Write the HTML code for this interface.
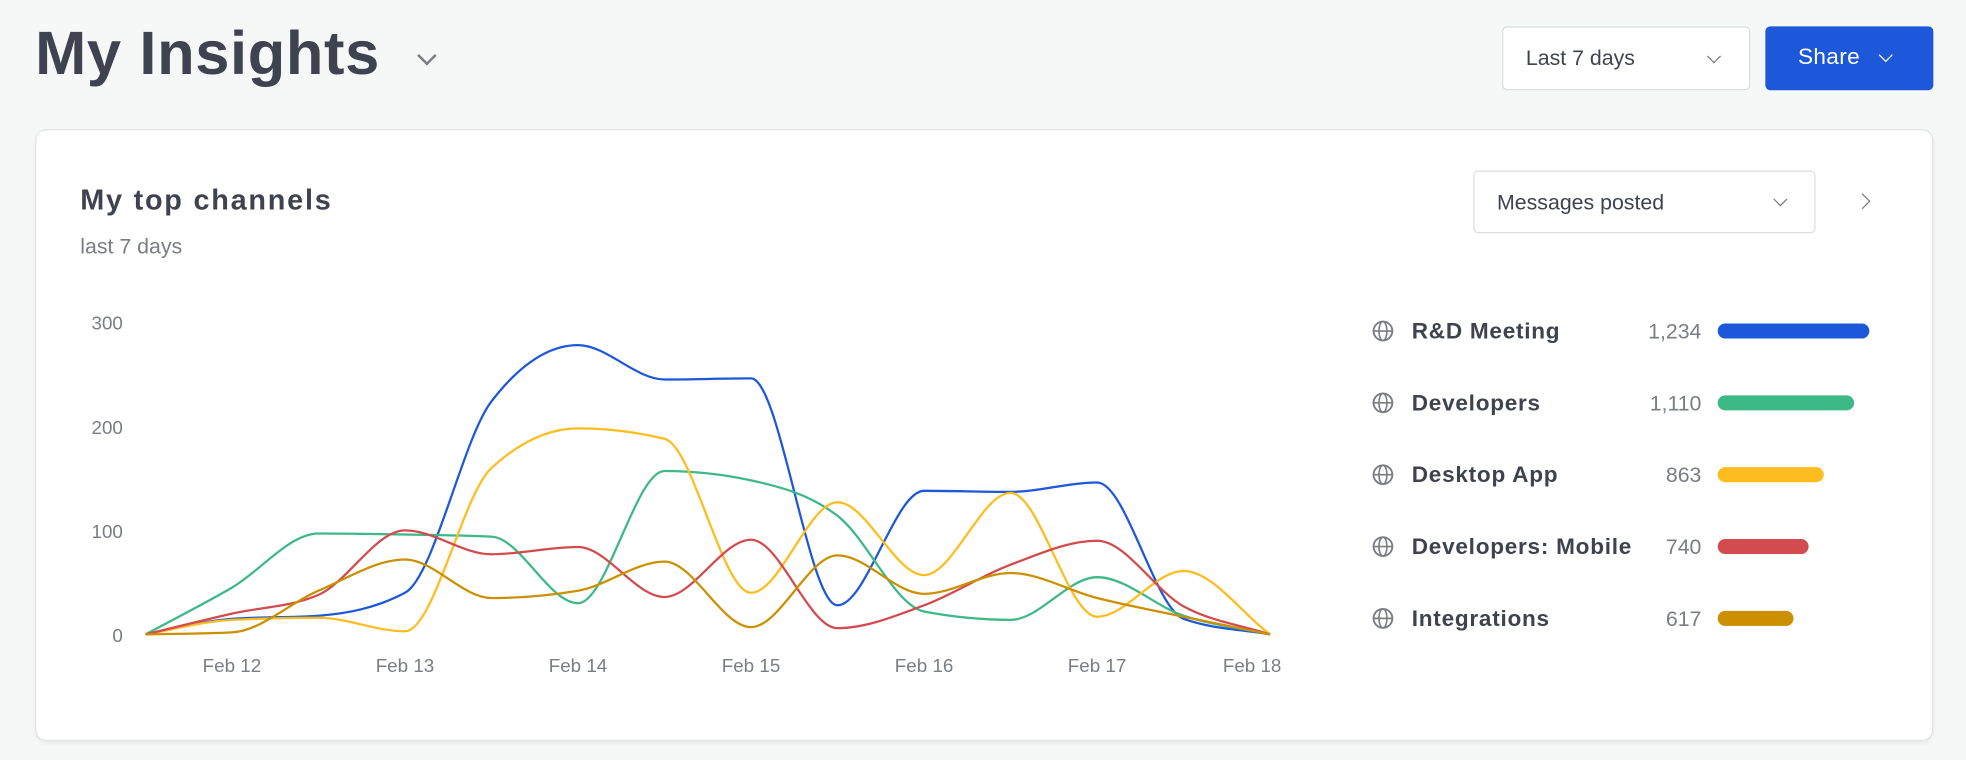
<!DOCTYPE html>
<html><head><meta charset="utf-8"><style>
html,body{margin:0;padding:0;width:1966px;height:760px;overflow:hidden;background:#f6f7f7;font-family:"Liberation Sans",sans-serif;}
#wrap{position:absolute;left:0;top:0;width:1568px;height:606px;transform:scale(1.2538);transform-origin:0 0;color:#3f4350;}
.abs{position:absolute;}
.dd{position:absolute;background:#fff;border:1px solid #dcdde0;border-radius:4px;box-sizing:border-box;}
.chev{position:absolute;width:7px;height:7px;border-right:1.6px solid #7a7d86;border-bottom:1.6px solid #7a7d86;transform:rotate(45deg);}
</style></head><body>
<div id="wrap">
  <div class="abs" style="left:28px;top:15px;font-size:49px;font-weight:bold;letter-spacing:0.5px;">My Insights</div>
  <div class="chev" style="left:335px;top:39px;width:9px;height:9px;border-width:2.2px;"></div>
  <div class="dd" style="left:1198px;top:21px;width:198px;height:51px;">
    <span class="abs" style="left:18px;top:15px;font-size:17px;color:#3f4350;">Last 7 days</span>
    <div class="chev" style="left:164px;top:19px;"></div>
  </div>
  <div class="abs" style="left:1408px;top:21px;width:134px;height:51px;background:#1c58d9;border-radius:4px;">
    <span class="abs" style="left:26px;top:14px;font-size:18px;color:#fff;letter-spacing:0.3px;">Share</span>
    <div class="chev" style="left:92px;top:19px;border-color:#fff;"></div>
  </div>
  <div class="abs" style="left:29px;top:104px;width:1512px;height:486px;background:#fff;border-radius:8px;box-shadow:0 0 0 1px #e3e4e6,0 2px 4px rgba(0,0,0,0.08);"></div>
  <div class="abs" style="left:64px;top:146px;font-size:23px;font-weight:bold;letter-spacing:1.4px;">My top channels</div>
  <div class="abs" style="left:64px;top:187px;font-size:17px;color:#7a7d86;">last 7 days</div>
  <div class="dd" style="left:1175px;top:136px;width:273px;height:50px;">
    <span class="abs" style="left:18px;top:15px;font-size:17px;color:#3f4350;">Messages posted</span>
    <div class="chev" style="left:240px;top:18px;"></div>
  </div>
  <div class="chev" style="left:1481px;top:156px;transform:rotate(-45deg);width:8px;height:8px;"></div>
  <svg class="abs" id="chart" style="left:0;top:0" width="1568" height="606"></svg>
</div>
<script>
const categories=["Feb 11","Feb 11.5","Feb 12","Feb 12.5","Feb 13","Feb 13.5","Feb 14","Feb 14.5","Feb 15","Feb 15.5","Feb 16","Feb 16.5","Feb 17","Feb 17.5","Feb 18"];
const xTickLabels=["Feb 12","Feb 13","Feb 14","Feb 15","Feb 16","Feb 17","Feb 18"];
const xTickIndex=[1,3,5,7,9,11,13];
const yTicks=[0,100,200,300];
const seriesNames=["R&D Meeting","Developers","Desktop App","Developers: Mobile","Integrations"];
const seriesTotals=[1234,1110,863,740,617];
const seriesTotalLabels=["1,234","1,110","863","740","617"];
const rdMeeting=[0,15,18,40,224,278,245,246,28,138,137,146,15,0];
const developers=[0,45,97,96,94,30,157,148,114,22,14,55,18,0];
const desktopApp=[0,14,16,3,160,198,188,40,127,57,136,17,61,0];
const devMobile=[0,20,38,100,77,84,36,91,6,28,67,90,27,0];
const integrations=[0,2,42,72,35,42,70,7,76,39,59,35,17,0];
const allSeries=[rdMeeting,developers,desktopApp,devMobile,integrations];
const colors=["#1c58d9","#3db887","#ffbc1f","#d24b4e","#cc8f00"];
const NS="http://www.w3.org/2000/svg";
const svg=document.getElementById('chart');
const x=i=>116+i*69;
const y=v=>506-v*0.83;
function mk(t,a){const e=document.createElementNS(NS,t);for(const k in a)e.setAttribute(k,a[k]);svg.appendChild(e);return e;}
yTicks.forEach(v=>{const t=mk('text',{x:98,y:y(v)+6,'text-anchor':'end','font-size':15,fill:'#7a7d86'});t.textContent=v;

});
xTickLabels.forEach((l,k)=>{const i=xTickIndex[k];const last=k===xTickLabels.length-1;const t=mk('text',{x:last?x(i)+9:x(i),y:536,'text-anchor':last?'end':'middle','font-size':15,fill:'#7a7d86'});t.textContent=l;

});
function monotone(pts){const n=pts.length;const dx=[],s=[];for(let i=0;i<n-1;i++){dx.push(pts[i+1][0]-pts[i][0]);s.push((pts[i+1][1]-pts[i][1])/dx[i]);}
const m=new Array(n);m[0]=s[0];m[n-1]=s[n-2];for(let i=1;i<n-1;i++){if(s[i-1]*s[i]<=0)m[i]=0;else{const h0=dx[i-1],h1=dx[i];const p=(s[i-1]*h1+s[i]*h0)/(h0+h1);m[i]=(Math.sign(s[i-1])+Math.sign(s[i]))*Math.min(Math.abs(s[i-1]),Math.abs(s[i]),0.5*Math.abs(p));}}
let d='M'+pts[0][0]+','+pts[0][1];for(let i=0;i<n-1;i++){const h=dx[i]/3;d+=' C'+(pts[i][0]+h)+','+(pts[i][1]+m[i]*h)+' '+(pts[i+1][0]-h)+','+(pts[i+1][1]-m[i+1]*h)+' '+pts[i+1][0]+','+pts[i+1][1];}return d;}
allSeries.forEach((vals,k)=>{const p=mk('path',{d:monotone(vals.map((v,i)=>[x(i),y(v)])),fill:'none',stroke:colors[k],'stroke-width':1.8});

});
seriesNames.forEach((nm,k)=>{const cy=264+k*57.3;
const g=mk('g',{});


mk('circle',{cx:1103,cy:cy,r:7.5,fill:'none',stroke:'#7a7d86','stroke-width':1.5});
mk('ellipse',{cx:1103,cy:cy,rx:3.2,ry:7.5,fill:'none',stroke:'#7a7d86','stroke-width':1.3});
mk('line',{x1:1095.5,y1:cy,x2:1110.5,y2:cy,stroke:'#7a7d86','stroke-width':1.3});
const t=mk('text',{x:1126,y:cy+6,'font-size':18,'font-weight':'bold',fill:'#3f4350','letter-spacing':0.6});t.textContent=nm;


const v=mk('text',{x:1357,y:cy+6,'text-anchor':'end','font-size':17,fill:'#7a7d86'});v.textContent=seriesTotalLabels[k];


const b=mk('rect',{x:1370,y:cy-6,width:seriesTotals[k]*0.098,height:12,rx:6,fill:colors[k]});

});
</script>
</body></html>
